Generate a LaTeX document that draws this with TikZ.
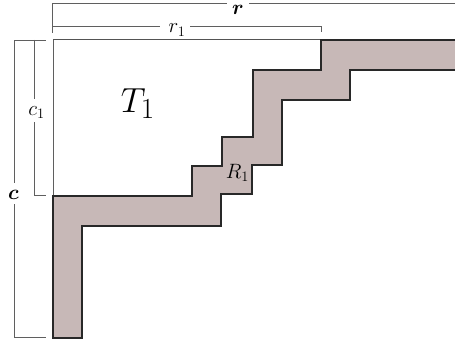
\documentclass[tikz,border=0pt]{standalone}
\usepackage{amsmath}
\definecolor{bandfill}{RGB}{199,184,183}
\definecolor{bandline}{RGB}{40,40,40}
\definecolor{dimline}{RGB}{95,95,95}
\begin{document}
\begin{tikzpicture}[x=1pt,y=-1pt,
  band/.style={fill=bandfill,draw=bandline,line width=1.4pt,line join=miter},
  dimen/.style={draw=dimline,line width=0.9pt},
  edge/.style={draw=bandline!80,line width=1pt},
  lbl/.style={inner sep=0pt,anchor=base,font=\huge},
  biglbl/.style={inner sep=0pt,anchor=base,font=\Huge,scale=1.4}]
\useasboundingbox (0,0) rectangle (455,345);
\clip (0,0) rectangle (455,345);
% coordinates
\coordinate (TL) at (53,40);
\coordinate (TR) at (321,40);
\coordinate (BL) at (53,196);
% T1 region edges
\draw[edge] (TL) -- (TR);
\draw[dimen] (TL) -- (BL);
% band
\path[band] (53,338) -- (53,196) -- (192,196) -- (192,166) -- (222,166) -- (222,137)
  -- (253,137) -- (253,70) -- (321,70) -- (321,40) -- (470,40) -- (470,70)
  -- (350,70) -- (350,100) -- (282,100) -- (282,165) -- (252,165) -- (252,194)
  -- (221,194) -- (221,226) -- (82,226) -- (82,338) -- cycle;
% labels
\node[biglbl] (T1) at (138,112) {$T_1$};
\node[lbl] (R1) at (237.5,178) {$R_1$};
\node[lbl] (r1) at (177,33) {$r_1$};
\node[lbl] (r) at (238,15) {$\boldsymbol{r}$};
\node[lbl] (c1) at (36.5,115) {$c_1$};
\node[lbl] (c) at (13.5,199) {$\boldsymbol{c}$};
% r dimension
\coordinate (rA) at (52.5,3);
\coordinate (rB) at (460,3);
\coordinate (rT) at (52.5,33);
\draw[dimen] (rT) -- (rA) -- (227,3);
\draw[dimen] (249,3) -- (rB);
% r1 dimension
\coordinate (r1A) at (52.5,26);
\coordinate (r1B) at (321,26);
\coordinate (r1T) at (321,32.5);
\draw[dimen] (r1A) -- (160,26);
\draw[dimen] (190,26) -- (r1B) -- (r1T);
% c dimension
\coordinate (cA) at (14,40);
\coordinate (cB) at (14,337);
\draw[dimen] (45.5,40) -- (cA) -- (14,183);
\draw[dimen] (14,204) -- (cB) -- (46,337);
% c1 dimension
\coordinate (c1A) at (34,40);
\coordinate (c1B) at (34,195);
\draw[dimen] (c1A) -- (34,99);
\draw[dimen] (34,122) -- (c1B) -- (46,195);
\end{tikzpicture}
\end{document}
